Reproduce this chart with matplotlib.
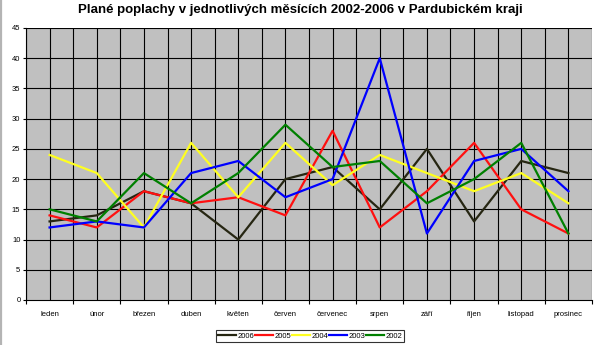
import matplotlib
matplotlib.use("Agg")
import matplotlib.pyplot as plt
import numpy as np

plt.rcParams['font.family'] = ['Liberation Sans', 'DejaVu Sans']

months = ["leden", "únor", "březen", "duben", "květen", "červen",
          "červenec", "srpen", "září", "říjen", "listopad", "prosinec"]
y2006 = [13, 14, 18, 16, 10, 20, 22, 15, 25, 13, 23, 21]
y2005 = [14, 12, 18, 16, 17, 14, 28, 12, 18, 26, 15, 11]
y2004 = [24, 21, 12, 26, 17, 26, 19, 24, 21, 18, 21, 16]
y2003 = [12, 13, 12, 21, 23, 17, 20, 40, 11, 23, 25, 18]
y2002 = [15, 13, 21, 16, 21, 29, 22, 23, 16, 20, 26, 11]

series = [("2006", y2006, "#262612"),
          ("2005", y2005, "#ff1010"),
          ("2004", y2004, "#ffff20"),
          ("2003", y2003, "#0000ff"),
          ("2002", y2002, "#008000")]

fig = plt.figure(figsize=(6, 3.45), dpi=100)
ax = fig.add_axes([26/600, 1-300/345, 566/600, 272/345])
ax.set_facecolor("#c0c0c0")

x = np.arange(len(months))
for name, vals, col in series:
    ax.plot(x, vals, color=col, lw=1.6, label=name, zorder=3)

ax.set_xlim(-0.5, 11.5)
ax.set_ylim(0, 45)
ax.set_yticks(range(0, 46, 5))
ax.set_xticks(x)
ax.set_xticklabels(months)
ax.set_xticks(np.arange(-0.5, 12, 1), minor=True)
ax.tick_params(axis='x', which='major', length=0, pad=8, labelsize=5.5)
ax.tick_params(axis='x', which='minor', length=3, width=0.8, direction='out')
ax.tick_params(axis='y', length=2, width=0.8, labelsize=5.5, pad=2)

for xv in np.arange(-0.5, 11.6, 0.5):
    ax.axvline(xv, color="black", lw=0.8, zorder=1)
for yv in range(5, 46, 5):
    ax.axhline(yv, color="black", lw=0.8, zorder=1)

for s in ["top", "right"]:
    ax.spines[s].set_visible(False)
ax.spines["left"].set_linewidth(0.8)
ax.spines["bottom"].set_linewidth(0.8)

fig.text(0.5, 1-10/345,
         "Plané poplachy v jednotlivých měsících 2002-2006 v Pardubickém kraji",
         ha="center", va="center", fontsize=9.5, fontweight="bold")

leg = fig.legend(loc="center", bbox_to_anchor=(310/600, 1-336/345), ncol=5,
                 fontsize=5.5, frameon=True, fancybox=False, edgecolor="black",
                 handlelength=2.4, handletextpad=0.1, columnspacing=0.15,
                 borderpad=0.25, borderaxespad=0)
leg.get_frame().set_linewidth(0.8)

# grey strip on the left edge of the picture
fig.add_artist(plt.Line2D([1.2/600, 1.2/600], [0, 1], transform=fig.transFigure,
                          color="#b4b4b4", lw=1.6))

fig.savefig("out.png", dpi=100)
